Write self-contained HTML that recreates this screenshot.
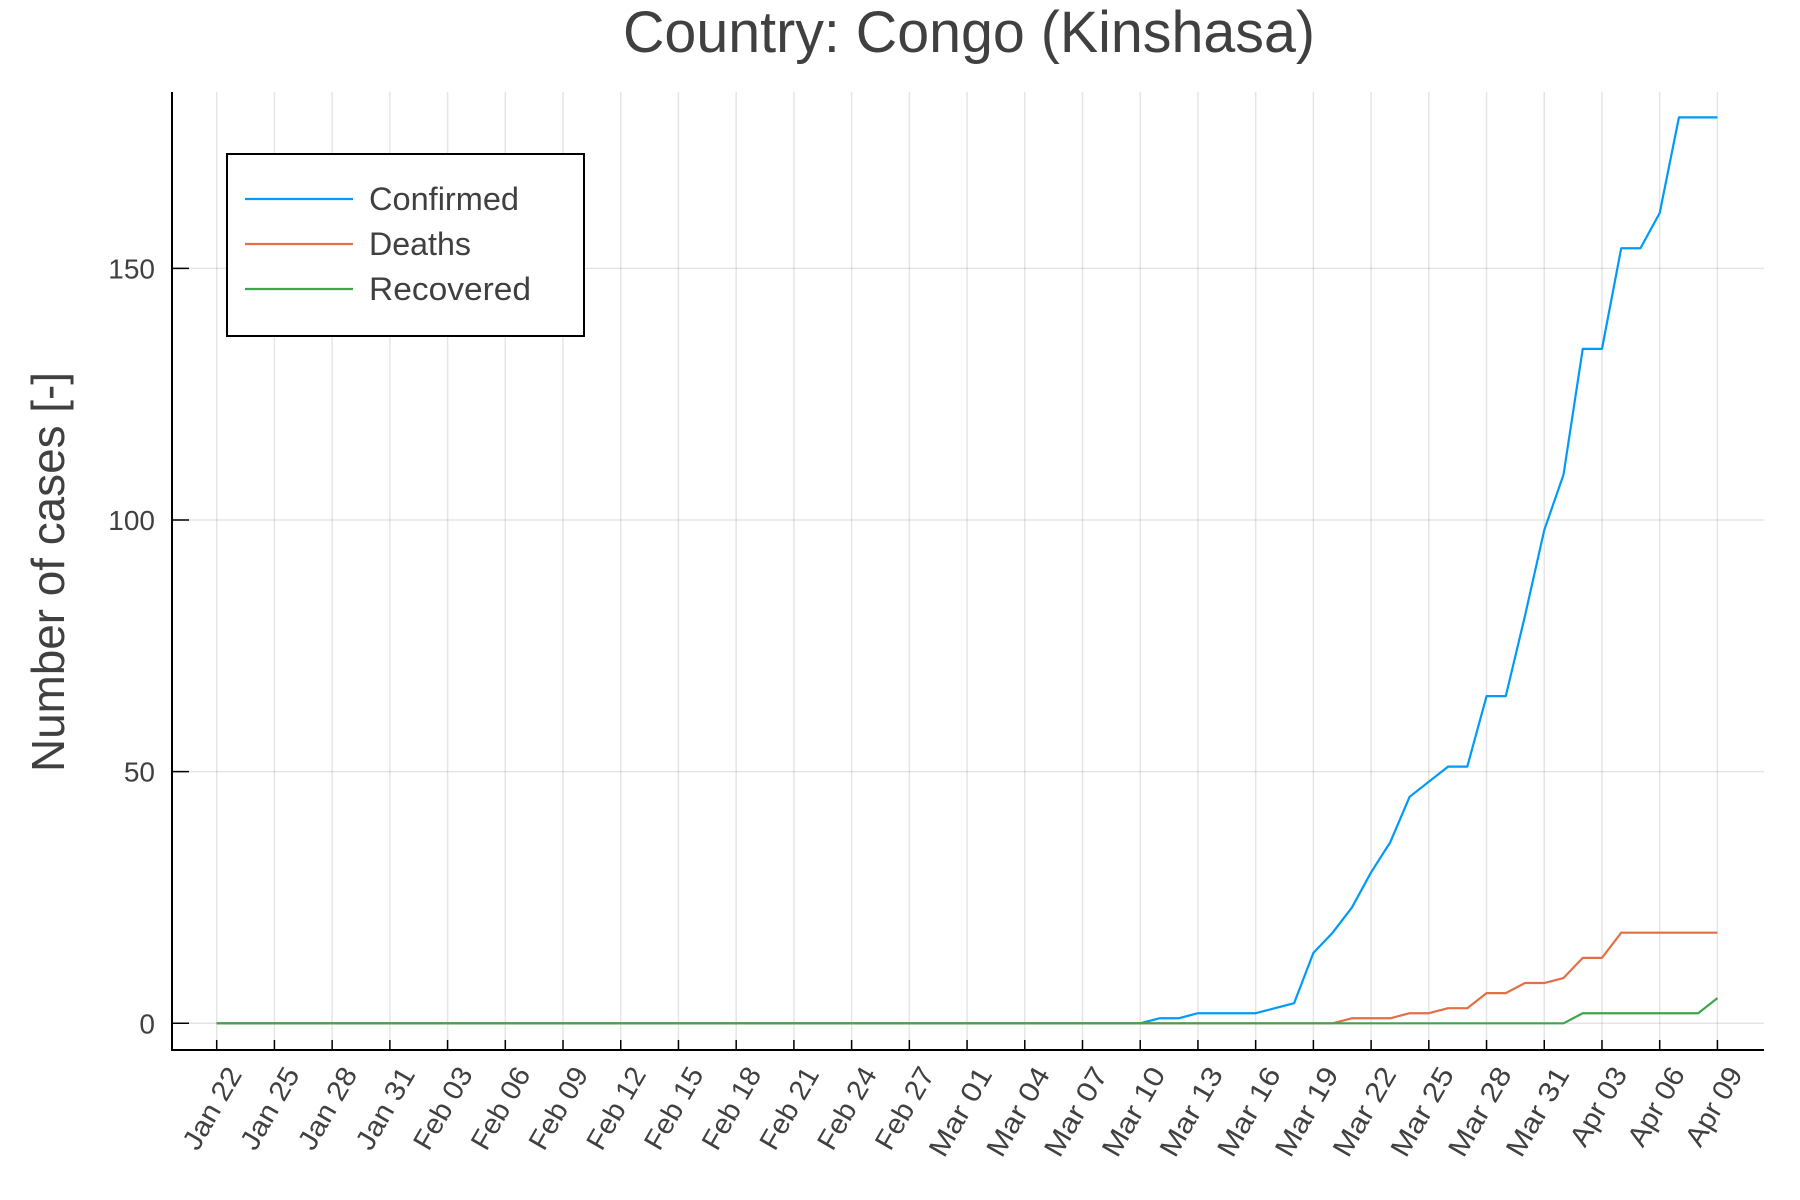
<!DOCTYPE html>
<html><head><meta charset="utf-8"><style>
html,body{margin:0;padding:0;background:#fff}
svg{display:block;font-family:"Liberation Sans",Arial,sans-serif}
</style></head><body>
<svg id="chart" width="1800" height="1200" viewBox="0 0 1800 1200">
<text x="969" y="52" text-anchor="middle" font-size="58" fill="#404040" textLength="692" lengthAdjust="spacingAndGlyphs">Country: Congo (Kinshasa)</text>
<text transform="translate(64,572) rotate(-90)" text-anchor="middle" font-size="46" fill="#404040" textLength="400" lengthAdjust="spacingAndGlyphs">Number of cases [-]</text>
<g id="grid"></g><g id="axes"></g><g id="series"></g><g id="legend"></g>
</svg>
<script>
const startDate = [2020, 0, 22];
const confirmed = [0,0,0,0,0,0,0,0,0,0,0,0,0,0,0,0,0,0,0,0,0,0,0,0,0,0,0,0,0,0,0,0,0,0,0,0,0,0,0,0,0,0,0,0,0,0,0,0,0,1,1,2,2,2,2,3,4,14,18,23,30,36,45,48,51,51,65,65,81,98,109,134,134,154,154,161,180,180,180];
const deaths = [0,0,0,0,0,0,0,0,0,0,0,0,0,0,0,0,0,0,0,0,0,0,0,0,0,0,0,0,0,0,0,0,0,0,0,0,0,0,0,0,0,0,0,0,0,0,0,0,0,0,0,0,0,0,0,0,0,0,0,1,1,1,2,2,3,3,6,6,8,8,9,13,13,18,18,18,18,18,18];
const recovered = [0,0,0,0,0,0,0,0,0,0,0,0,0,0,0,0,0,0,0,0,0,0,0,0,0,0,0,0,0,0,0,0,0,0,0,0,0,0,0,0,0,0,0,0,0,0,0,0,0,0,0,0,0,0,0,0,0,0,0,0,0,0,0,0,0,0,0,0,0,0,0,2,2,2,2,2,2,2,5];
const yTicks = [0,50,100,150];
const seriesNames = ["Confirmed","Deaths","Recovered"];
const months = ["Jan","Feb","Mar","Apr","May"];

const NS="http://www.w3.org/2000/svg";
const X0=216.7, DX=19.24, Y0=1023.3, DY=5.033;
const xs=i=>X0+i*DX, ys=v=>Y0-v*DY;
const L=172, R=1764, T=92, B=1050;
function mk(tag,attrs,parent){const e=document.createElementNS(NS,tag);for(const k in attrs)e.setAttribute(k,attrs[k]);parent.appendChild(e);return e;}
const grid=document.getElementById('grid'),axes=document.getElementById('axes'),ser=document.getElementById('series'),leg=document.getElementById('legend');
const n=confirmed.length;
for(let i=0;i<n;i+=3){
  const x=xs(i);
  const g=mk('line',{x1:x,x2:x,y1:T,y2:B,stroke:'#000','stroke-opacity':0.1,'stroke-width':1.5},grid);
  
  
  const t=mk('line',{x1:x,x2:x,y1:B,y2:B-10,stroke:'#000','stroke-width':1.5},axes);
  
  
  const d=new Date(startDate[0],startDate[1],startDate[2]+i);
  const lab=months[d.getMonth()]+' '+String(d.getDate()).padStart(2,'0');
  const tx=mk('text',{transform:`translate(${x+26},${B+24}) rotate(-60)`,'text-anchor':'end','font-size':28,fill:'#404040',textLength:lab.startsWith('Ja')||lab.startsWith('Fe')||lab.startsWith('Ap')?(lab.startsWith('Ap')?86:90):98,lengthAdjust:'spacingAndGlyphs'},axes);
  tx.textContent=lab;
  
  
}
yTicks.forEach(v=>{
  const y=ys(v);
  const g=mk('line',{x1:L,x2:R,y1:y,y2:y,stroke:'#000','stroke-opacity':0.1,'stroke-width':1.5},grid);
  
  
  const t=mk('line',{x1:L,x2:L+17,y1:y,y2:y,stroke:'#000','stroke-width':1.5},axes);
  
  
  const tx=mk('text',{x:L-17,y:y+10,'text-anchor':'end','font-size':28,fill:'#404040'},axes);
  tx.textContent=v;
  
  
});
const ax=mk('path',{d:`M${L},${T} V${B} H${R}`,fill:'none',stroke:'#000','stroke-width':2},axes);


const colors=['#009af9','#e26f46','#3ea44e'];
[confirmed,deaths,recovered].forEach((arr,k)=>{
  const p=mk('polyline',{points:arr.map((v,i)=>xs(i)+','+ys(v)).join(' '),fill:'none',stroke:colors[k],'stroke-width':2.2,'stroke-linejoin':'round'},ser);
  
  
});
const box=mk('rect',{x:227,y:154,width:357,height:182,fill:'#fff',stroke:'#000','stroke-width':2},leg);


const legW=[150,102,162];
seriesNames.forEach((nm,k)=>{
  const y=199+k*45;
  const l=mk('line',{x1:245,x2:353,y1:y,y2:y,stroke:colors[k],'stroke-width':2.2},leg);
  
  
  const t=mk('text',{x:369,y:y+11,'font-size':32,fill:'#404040',textLength:legW[k],lengthAdjust:'spacingAndGlyphs'},leg);
  t.textContent=nm;
  
  
});
</script>
</body></html>
